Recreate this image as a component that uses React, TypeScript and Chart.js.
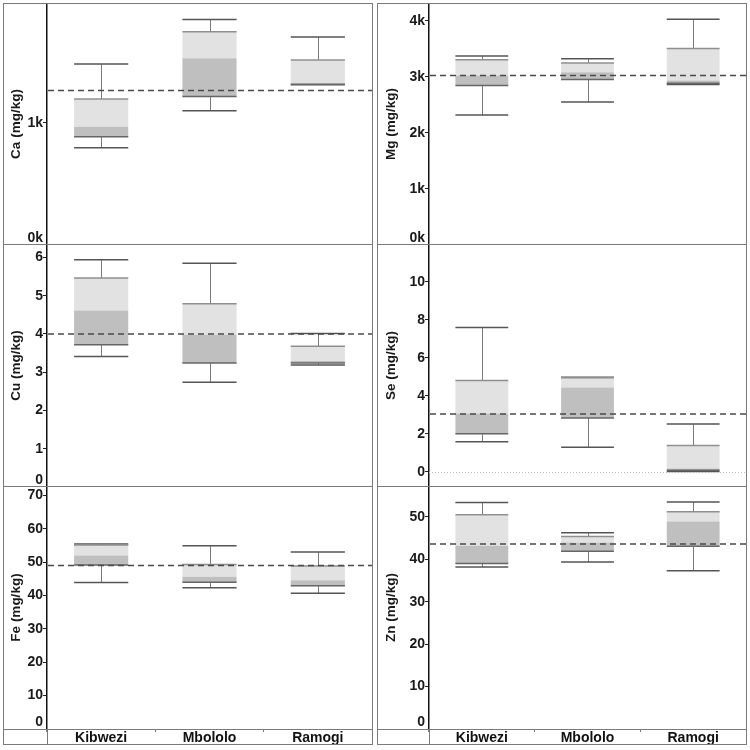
import React, { useEffect, useRef } from 'react';
import { Chart, registerables } from 'chart.js';

Chart.register(...registerables);

// ---------- data ----------
const sites = ['Kibwezi', 'Mbololo', 'Ramogi'];

// each entry: [min, Q1, median, Q3, max] for Kibwezi, Mbololo, Ramogi
const caStats = [[795, 885, 967, 1194, 1481], [1099, 1214, 1528, 1744, 1846], [1312, 1316, 1322, 1514, 1701]];
const mgStats = [[2319, 2846, 3025, 3306, 3372], [2552, 2954, 3085, 3247, 3324], [2865, 2888, 2936, 3510, 4030]];
const cuStats = [[3.41, 3.72, 4.61, 5.46, 5.94], [2.74, 3.24, 3.98, 4.79, 5.85], [3.19, 3.24, 3.29, 3.68, 4.01]];
const seStats = [[1.59, 2.01, 3.07, 4.81, 7.6], [1.29, 2.84, 4.44, 4.95, 4.98], [0.02, 0.08, 0.18, 1.39, 2.52]];
const feStats = [[43.9, 49.1, 52.0, 55.1, 55.4], [42.3, 44.0, 45.6, 49.3, 54.9], [40.7, 42.9, 44.6, 48.8, 53.0]];
const znStats = [[38.2, 39.0, 43.2, 50.5, 53.4], [39.4, 41.9, 43.95, 45.4, 46.3], [37.3, 43.1, 48.9, 51.2, 53.5]];

// dashed reference lines
const caRef = 1265;
const mgRef = 3026;
const cuRef = 4.0;
const seRef = 3.05;
const feRef = 49.0;
const znRef = 43.6;

// axis ranges [min, max]
const caRange = [0, 1980];
const mgRange = [0, 4320];
const cuRange = [0, 6.35];
const seRange = [-0.8, 12];
const feRange = [0, 72.8];
const znRange = [0, 57.3];

// tick values
const caTicks = [0, 1000];
const mgTicks = [0, 1000, 2000, 3000, 4000];
const cuTicks = [0, 1, 2, 3, 4, 5, 6];
const seTicks = [0, 2, 4, 6, 8, 10];
const feTicks = [0, 10, 20, 30, 40, 50, 60, 70];
const znTicks = [0, 10, 20, 30, 40, 50];

// ---------- styling ----------
const FONT = '"Liberation Sans", Arial, Helvetica, sans-serif';
const LIGHT = '#e2e2e2';
const DARK = '#bfbfbf';
const FRAME = '#7a7a7a';

const panels = [
  { key: 'ca', title: 'Ca (mg/kg)', stats: caStats, refVal: caRef, range: caRange, ticks: caTicks, kilo: true, zero: false, col: 0, row: 0 },
  { key: 'mg', title: 'Mg (mg/kg)', stats: mgStats, refVal: mgRef, range: mgRange, ticks: mgTicks, kilo: true, zero: false, col: 1, row: 0 },
  { key: 'cu', title: 'Cu (mg/kg)', stats: cuStats, refVal: cuRef, range: cuRange, ticks: cuTicks, kilo: false, zero: false, col: 0, row: 1 },
  { key: 'se', title: 'Se (mg/kg)', stats: seStats, refVal: seRef, range: seRange, ticks: seTicks, kilo: false, zero: true, col: 1, row: 1 },
  { key: 'fe', title: 'Fe (mg/kg)', stats: feStats, refVal: feRef, range: feRange, ticks: feTicks, kilo: false, zero: false, col: 0, row: 2 },
  { key: 'zn', title: 'Zn (mg/kg)', stats: znStats, refVal: znRef, range: znRange, ticks: znTicks, kilo: false, zero: false, col: 1, row: 2 },
];

const cols = [
  { left: 3, width: 370, axisWidth: 44, titlePad: 5 },
  { left: 377, width: 370, axisWidth: 52, titlePad: 6 },
];
const rows = [
  { top: 3, height: 242, showX: false },
  { top: 244, height: 243, showX: false },
  { top: 486, height: 259, showX: true },
];

// ---------- plugins ----------
const boxPlugin = {
  id: 'boxPlot',
  afterDatasetsDraw(chart: any, _args: any, opts: any) {
    const { ctx, chartArea } = chart;
    const y = chart.scales.y;
    const meta = chart.getDatasetMeta(0);
    const stats: number[][] = opts.stats;
    ctx.save();
    stats.forEach((s, i) => {
      const el = meta.data[i];
      const { x: cx, width } = el.getProps(['x', 'width'], true);
      const half = width / 2;
      const [mn, q1, , q3, mx] = s.map((v) => y.getPixelForValue(v));
      // whiskers
      ctx.strokeStyle = '#7a7a7a';
      ctx.lineWidth = 1;
      ctx.beginPath();
      ctx.moveTo(Math.round(cx) + 0.5, mx);
      ctx.lineTo(Math.round(cx) + 0.5, q3);
      ctx.moveTo(Math.round(cx) + 0.5, q1);
      ctx.lineTo(Math.round(cx) + 0.5, mn);
      ctx.stroke();
      // caps
      ctx.strokeStyle = '#555';
      ctx.lineWidth = 1.5;
      ctx.beginPath();
      ctx.moveTo(cx - half, mx);
      ctx.lineTo(cx + half, mx);
      ctx.moveTo(cx - half, mn);
      ctx.lineTo(cx + half, mn);
      ctx.stroke();
      // box edges
      ctx.strokeStyle = '#8f8f8f';
      ctx.lineWidth = 1.5;
      ctx.beginPath();
      ctx.moveTo(cx - half, q3);
      ctx.lineTo(cx + half, q3);
      ctx.stroke();
      ctx.strokeStyle = '#666';
      ctx.beginPath();
      ctx.moveTo(cx - half, q1);
      ctx.lineTo(cx + half, q1);
      ctx.stroke();
    });
    // zero dotted line
    if (opts.zero) {
      const yz = y.getPixelForValue(0);
      ctx.strokeStyle = '#bdbdbd';
      ctx.lineWidth = 1;
      ctx.setLineDash([1, 2]);
      ctx.beginPath();
      ctx.moveTo(chartArea.left, Math.round(yz) + 0.5);
      ctx.lineTo(chartArea.right, Math.round(yz) + 0.5);
      ctx.stroke();
    }
    // dashed reference line
    const yr = y.getPixelForValue(opts.refVal);
    ctx.strokeStyle = '#4a4a4a';
    ctx.lineWidth = 1.5;
    ctx.setLineDash([6, 4]);
    ctx.beginPath();
    ctx.moveTo(chartArea.left + 1, yr);
    ctx.lineTo(chartArea.right, yr);
    ctx.stroke();
    ctx.restore();
  },
};

const framePlugin = {
  id: 'frame',
  afterDraw(chart: any, _args: any, opts: any) {
    const { ctx, chartArea, width, height } = chart;
    ctx.save();
    ctx.strokeStyle = FRAME;
    ctx.lineWidth = 1;
    ctx.beginPath();
    ctx.moveTo(0, 0.5);
    ctx.lineTo(width, 0.5);
    ctx.moveTo(0, height - 0.5);
    ctx.lineTo(width, height - 0.5);
    ctx.moveTo(0.5, 0);
    ctx.lineTo(0.5, height);
    ctx.moveTo(width - 0.5, 0);
    ctx.lineTo(width - 0.5, height);
    if (opts.showX) {
      const yb = Math.round(chartArea.bottom) + 0.5;
      ctx.moveTo(0, yb);
      ctx.lineTo(width, yb);
      ctx.moveTo(Math.round(chartArea.left) + 0.5, yb);
      ctx.lineTo(Math.round(chartArea.left) + 0.5, height);
    }
    ctx.stroke();
    ctx.restore();
  },
};

// keep the label sitting on the bottom edge inside its cell
const bottomLabelPlugin = {
  id: 'bottomLabel',
  beforeDraw(chart: any) {
    const y = chart.scales.y;
    if (!y || !y.getLabelItems) return;
    const items = y.getLabelItems(chart.chartArea);
    const bottom = chart.chartArea.bottom;
    items.forEach((it: any) => {
      if (it.options && it.options.translation && Math.abs(it.options.translation[1] - bottom) < 1) {
        it.options.textBaseline = 'bottom';
      }
    });
  },
};

// ---------- components ----------
function Panel({ p }: { p: any }) {
  const ref = useRef<HTMLCanvasElement>(null);
  const col = cols[p.col];
  const row = rows[p.row];

  useEffect(() => {
    if (!ref.current) return;
    const chart = new Chart(ref.current, {
      type: 'bar',
      data: {
        labels: sites,
        datasets: [
          {
            data: p.stats.map((s: number[]) => [s[1], s[2]]),
            backgroundColor: DARK,
            borderWidth: 0,
            grouped: false,
            barPercentage: 0.5,
            categoryPercentage: 1,
          },
          {
            data: p.stats.map((s: number[]) => [s[2], s[3]]),
            backgroundColor: LIGHT,
            borderWidth: 0,
            grouped: false,
            barPercentage: 0.5,
            categoryPercentage: 1,
          },
        ],
      } as any,
      options: {
        animation: false,
        responsive: false,
        maintainAspectRatio: false,
        devicePixelRatio: 1,
        layout: { padding: { left: 0, right: 1, top: 0, bottom: 0 } },
        events: [],
        plugins: {
          legend: { display: false },
          tooltip: { enabled: false },
          boxPlot: { stats: p.stats, refVal: p.refVal, zero: p.zero },
          frame: { showX: row.showX },
        } as any,
        scales: {
          x: {
            display: row.showX,
            offset: true,
            grid: {
              display: true,
              drawOnChartArea: false,
              offset: true,
              tickLength: 3,
              color: FRAME,
            },
            border: { display: false },
            ticks: {
              font: { family: FONT, size: 14, weight: 'bold', lineHeight: 1 },
              color: '#111',
              padding: -1,
              maxRotation: 0,
              autoSkip: false,
            },
            afterFit: (s: any) => {
              s.height = row.showX ? 16 : 0;
              s.paddingLeft = 0;
              s.paddingRight = 0;
            },
          },
          y: {
            min: p.range[0],
            max: p.range[1],
            bounds: 'data',
            afterBuildTicks: (s: any) => {
              s.ticks = p.ticks.map((v: number) => ({ value: v }));
            },
            ticks: {
              font: { family: FONT, size: 14, weight: 'bold' },
              color: '#1a1a1a',
              padding: 0,
              callback: (v: any) => (p.kilo ? `${Number(v) / 1000}k` : `${v}`),
            },
            grid: {
              display: true,
              drawOnChartArea: false,
              tickLength: 4,
              color: '#222',
            },
            border: { display: true, color: '#111', width: 1.5 },
            title: {
              display: true,
              text: p.title,
              font: { family: FONT, size: 13.5, weight: 'bold' },
              color: '#1a1a1a',
              padding: { top: col.titlePad, bottom: 0 },
            },
            afterFit: (s: any) => {
              s.width = col.axisWidth;
              s.paddingTop = 0;
              s.paddingBottom = 0;
            },
          },
        } as any,
      },
      plugins: [boxPlugin, framePlugin, bottomLabelPlugin],
    });
    return () => chart.destroy();
  }, []);

  return (
    <canvas
      ref={ref}
      width={col.width}
      height={row.height}
      style={{ position: 'absolute', left: col.left, top: row.top, width: col.width, height: row.height }}
    />
  );
}

export default function App() {
  return (
    <div style={{ position: 'absolute', left: 0, top: 0, width: 750, height: 750, background: '#ffffff' }}>
      {panels.map((p) => (
        <Panel key={p.key} p={p} />
      ))}
    </div>
  );
}
